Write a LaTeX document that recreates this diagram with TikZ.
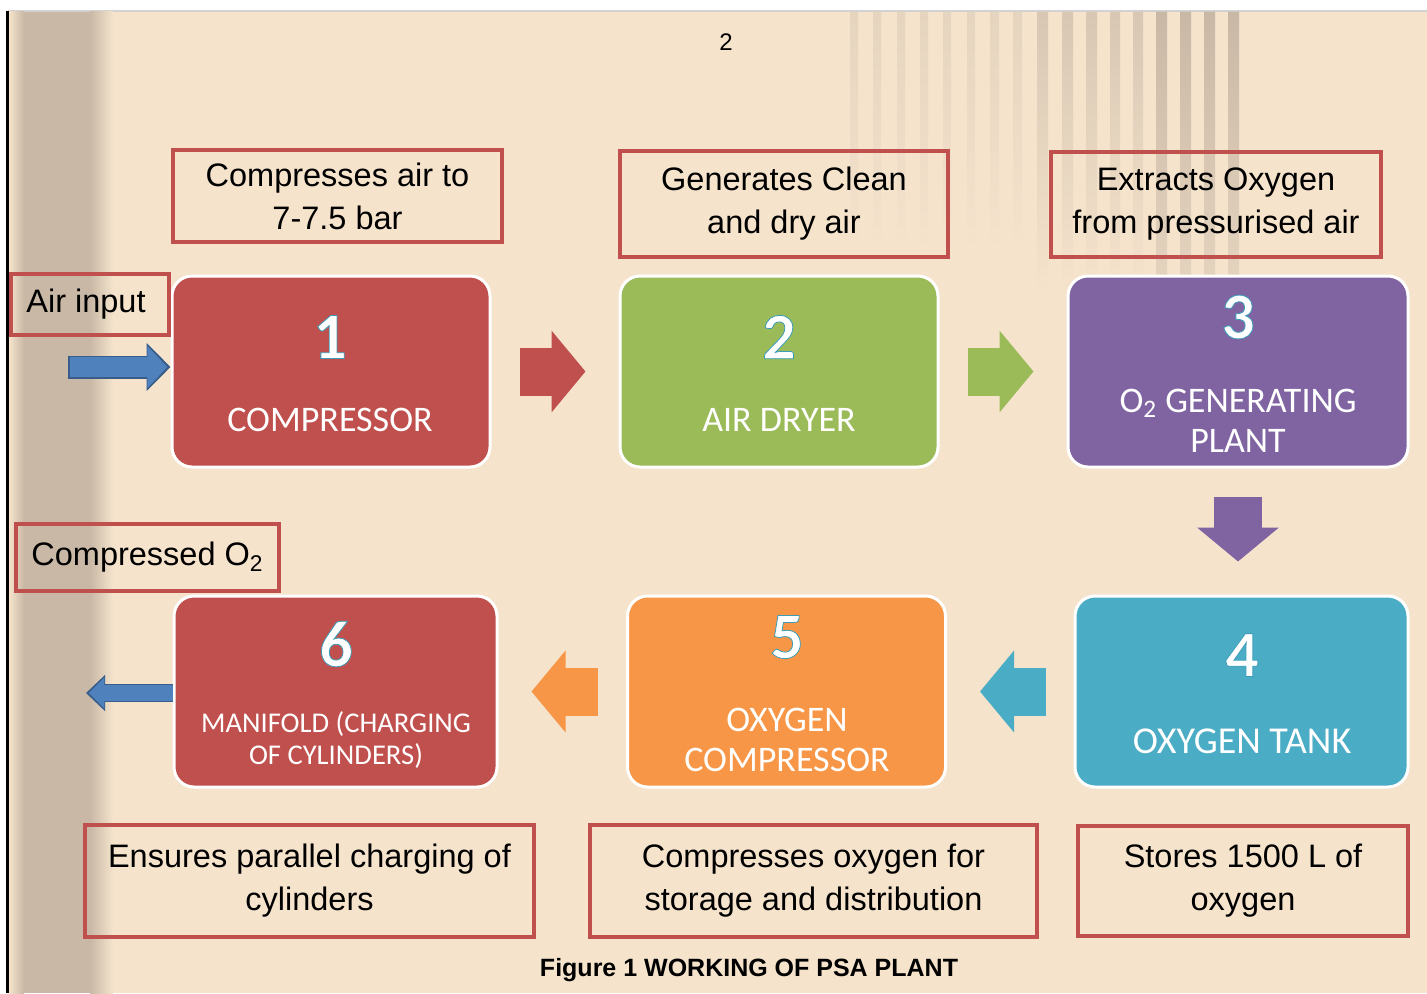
\documentclass[tikz,border=0pt]{standalone}
\usepackage{fontspec}
\setmainfont{Liberation Sans}
\newfontfamily\boxfont{Carlito}
\newfontfamily\numfont[BoldFeatures={FakeBold=1.2}]{Carlito}
\usetikzlibrary{%
  arrows.meta%
}

\definecolor{pagebg}{HTML}{F5E3CC}
\definecolor{bandtan}{HTML}{C8B8A5}
\definecolor{noteedge}{HTML}{C0504D}
\definecolor{stepred}{HTML}{C0504D}
\definecolor{stepgreen}{HTML}{9BBB59}
\definecolor{steppurple}{HTML}{8064A2}
\definecolor{stepcyan}{HTML}{4BACC6}
\definecolor{steporange}{HTML}{F79646}
\definecolor{flowblue}{HTML}{4F81BD}
\definecolor{flowedge}{HTML}{385D8A}

% white digit, teal edge
\newcommand\stepdigit[1]{\special{pdf:literal direct 0.23 0.61 0.72 RG}#1}

\tikzset{
  stepbox/.style={draw=white, line width=1.5pt, rounded corners=10pt,
    minimum width=159pt, minimum height=95.5pt, inner sep=0pt},
  notebox/.style={draw=noteedge, line width=2pt, align=center, inner sep=0pt,
    font=\fontsize{16.25}{21.5}\selectfont},
  stepnum/.style={text=white, inner sep=0pt,
    font=\numfont\bfseries\fontsize{33}{33}\selectfont},
  steplabel/.style={text=white, align=center, inner sep=0pt,
    font=\boxfont\fontsize{18}{20}\selectfont},
  blockarrow/.style={line width=24pt, -{Triangle[width=40pt,length=17pt]},
    shorten <=14pt, shorten >=16.5pt}
}

\begin{document}
\begin{tikzpicture}[x=0.5pt,y=-0.5pt]
  \useasboundingbox (0,0) rectangle (1427,993);
  % page
  \fill[white] (0,0) rectangle (1427,993);
  \fill[pagebg] (8,11) rectangle (1427,993);
  \draw[gray!35, line width=0.6pt] (8,11) -- (1427,11);
  \draw[black, line width=1.25pt] (7.5,11) -- (7.5,993);
  \shade[left color=pagebg, right color=bandtan] (9,11.5) rectangle (24,993);
  \fill[bandtan] (24,11.5) rectangle (90,993);
  \shade[left color=bandtan, right color=pagebg] (90,11.5) rectangle (113,993);
  \shade[top color=bandtan, bottom color=bandtan!35!pagebg]
    (1156,11.5) rectangle (1167,290) (1180,11.5) rectangle (1191,290)
    (1204,11.5) rectangle (1215,290) (1228,11.5) rectangle (1239,290);
  \shade[top color=bandtan!65!pagebg, bottom color=pagebg]
    (1037,11.5) rectangle (1048,290) (1062,11.5) rectangle (1073,290)
    (1086,11.5) rectangle (1097,290) (1110,11.5) rectangle (1120,290)
    (1133,11.5) rectangle (1143,290);
  \shade[top color=bandtan!35!pagebg, bottom color=pagebg]
    (850,11.5) rectangle (858,250) (873,11.5) rectangle (881,250)
    (897,11.5) rectangle (905,250) (920,11.5) rectangle (928,250)
    (943,11.5) rectangle (951,250) (967,11.5) rectangle (975,250)
    (990,11.5) rectangle (999,250) (1013,11.5) rectangle (1022,250);
  \node[font=\fontsize{12}{14}\selectfont] (pagenum) at (726,42) {2};

  % steps
  \node[stepbox, fill=stepred] (comp) at (331,371.5) {};
  \node[stepbox, fill=stepgreen] (dryer) at (779,371.5) {};
  \node[stepbox, fill=steppurple, minimum width=170pt] (gen) at (1238,371.5) {};
  \node[stepbox, fill=stepcyan, minimum width=166.5pt] (tank) at (1241.5,691.5) {};
  \node[stepbox, fill=steporange] (ocomp) at (786.5,691.5) {};
  \node[stepbox, fill=stepred, minimum width=161.5pt] (manifold) at (335.5,691.5) {};

  \node[stepnum] (n1) at (330,337) {\stepdigit{1}};
  \node[steplabel] (l1) at (330,420) {COMPRESSOR};
  \node[stepnum] (n2) at (779,337) {\stepdigit{2}};
  \node[steplabel] (l2) at (779,420) {AIR DRYER};
  \node[stepnum] (n3) at (1238,317) {\stepdigit{3}};
  \node[steplabel] (l3) at (1238,420.5) {O\textsubscript{2} GENERATING\\PLANT};
  \node[stepnum] (n4) at (1242,655) {\stepdigit{4}};
  \node[steplabel, font=\boxfont\fontsize{19}{20}\selectfont] (l4) at (1242,741) {OXYGEN TANK};
  \node[stepnum] (n5) at (787,637) {\stepdigit{5}};
  \node[steplabel] (l5) at (787,740) {OXYGEN\\COMPRESSOR};
  \node[stepnum] (n6) at (336,644) {\stepdigit{6}};
  \node[steplabel, font=\boxfont\fontsize{14.3}{16}\selectfont] (l6) at (336,740)
    {MANIFOLD (CHARGING\\OF CYLINDERS)};

  % notes
  \node[notebox, minimum width=164.5pt, minimum height=46pt] (ncomp) at (337.5,196)
    {Compresses air to\\7-7.5 bar};
  \node[notebox, minimum width=164pt, minimum height=53pt] (ndryer) at (784,204)
    {Generates Clean\\and dry air};
  \node[notebox, minimum width=165pt, minimum height=52.5pt] (ngen) at (1216,204.5)
    {Extracts Oxygen\\from pressurised air};
  \node[notebox, minimum width=79pt, minimum height=30.5pt] (airin) at (90,304.5)
    {Air input\hspace{4pt}};
  \node[notebox, minimum width=131.5pt, minimum height=33.5pt] (compo) at (147.5,557.5)
    {Compressed O\textsubscript{2}};
  \node[notebox, minimum width=224.5pt, minimum height=56pt] (nmanifold) at (309.5,881)
    {Ensures parallel charging of\\cylinders};
  \node[notebox, minimum width=223.5pt, minimum height=56pt] (nocomp) at (813.5,881)
    {Compresses oxygen for\\storage and distribution};
  \node[notebox, minimum width=165pt, minimum height=55pt] (ntank) at (1243,881)
    {Stores 1500 L of\\oxygen};

  % flow
  \draw[blockarrow, stepred] (comp) -- (dryer);
  \draw[blockarrow, stepgreen] (dryer) -- (gen);
  \draw[blockarrow, steppurple] (gen.south) -- (gen.south |- tank.north);
  \draw[blockarrow, stepcyan] (tank) -- (ocomp);
  \draw[blockarrow, steporange] (ocomp) -- (manifold);

  \coordinate (airsrc) at (68,367);
  \draw[flowedge, line width=11.5pt, -{Triangle[width=23.5pt,length=12pt]}]
    (airsrc) -- (airsrc -| comp.west);
  \draw[flowblue, line width=10pt, -{Triangle[width=20.5pt,length=10pt]},
    shorten <=0.75pt, shorten >=1.6pt] (airsrc) -- (airsrc -| comp.west);
  \coordinate (o2out) at (86,693);
  \draw[flowedge, line width=9pt, -{Triangle[width=17.5pt,length=9.5pt]}]
    (manifold.west |- o2out) -- (o2out);
  \draw[flowblue, line width=7.6pt, -{Triangle[width=15pt,length=7.8pt]},
    shorten >=1.4pt] (manifold.west |- o2out) -- (o2out);

  \node[font=\bfseries\fontsize{12.5}{14}\selectfont] (caption) at (749,970)
    {Figure 1 WORKING OF PSA PLANT};
\end{tikzpicture}
\end{document}
